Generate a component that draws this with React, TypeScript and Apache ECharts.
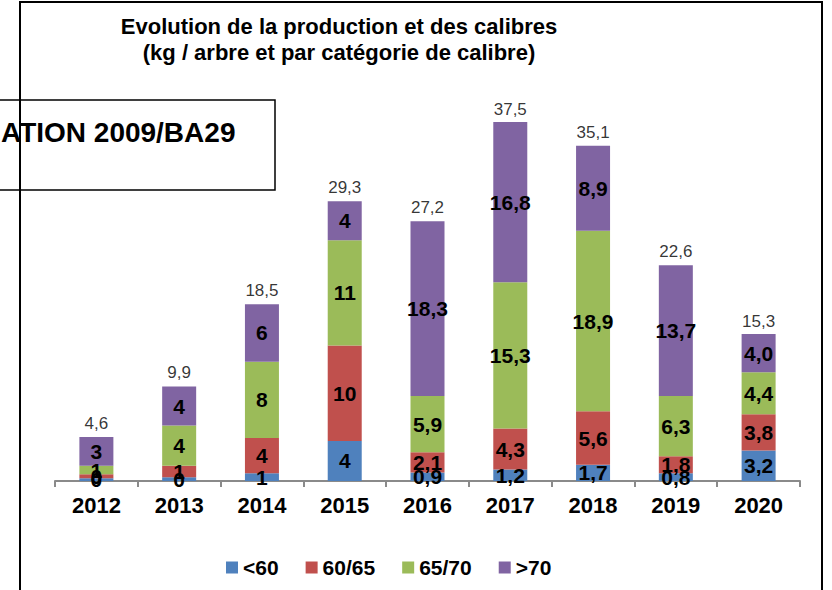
import React, { useEffect, useRef } from "react";
import * as echarts from "echarts";

const years = ["2012", "2013", "2014", "2015", "2016", "2017", "2018", "2019", "2020"];
const lt60 = [0.3, 0.4, 0.8, 4.2, 0.9, 1.2, 1.7, 0.8, 3.2];
const c6065 = [0.4, 1.2, 3.7, 10.0, 2.1, 4.3, 5.6, 1.8, 3.8];
const c6570 = [0.9, 4.2, 8.0, 11.0, 5.9, 15.3, 18.9, 6.3, 4.4];
const gt70 = [3.0, 4.1, 6.0, 4.1, 18.3, 16.8, 8.9, 13.7, 4.0];
const totals = [4.6, 9.9, 18.5, 29.3, 27.2, 37.5, 35.1, 22.6, 15.3];
const labelDecimals = [0, 0, 0, 0, 1, 1, 1, 1, 1];
const seriesNames = ["<60", "60/65", "65/70", ">70"];
const colors = ["#4F81BD", "#C0504D", "#9BBB59", "#8064A2"];

const FONT = "'Liberation Sans', Arial, sans-serif";

const fmt = (v: number, d: number) => v.toFixed(d).replace(".", ",");

export default function App() {
  const ref = useRef<HTMLDivElement>(null);
  useEffect(() => {
    if (!ref.current) return;
    const chart = echarts.init(ref.current, undefined, { renderer: "svg" });
    const dataSets = [lt60, c6065, c6570, gt70];
    const barSeries = dataSets.map((arr, i) => ({
      name: seriesNames[i],
      type: "bar",
      stack: "total",
      barWidth: 34,
      data: arr,
      itemStyle: { color: colors[i] },
      label: {
        show: true,
        position: "inside",
        color: "#000",
        fontWeight: "bold",
        fontSize: 21,
        fontFamily: FONT,
        formatter: (p: any) => fmt(p.value, labelDecimals[p.dataIndex]),
      },
    }));
    const option: any = {
      animation: false,
      backgroundColor: "#fff",
      textStyle: { fontFamily: FONT },
      title: {
        text: "Evolution de la production et des calibres\n(kg / arbre et par catégorie de calibre)",
        left: 334,
        top: 8,
        textAlign: "center",
        textStyle: {
          fontFamily: FONT,
          fontSize: 22,
          fontWeight: "bold",
          color: "#000",
          lineHeight: 26,
        },
      },
      legend: {
        data: seriesNames,
        left: 221,
        top: 552,
        itemWidth: 12,
        itemHeight: 12,
        itemGap: 27,
        icon: "rect",
        textStyle: { fontFamily: FONT, fontSize: 21, fontWeight: "bold", color: "#000" },
      },
      grid: { left: 55, right: 32, top: 99, bottom: 109 },
      xAxis: {
        type: "category",
        data: years,
        axisLine: { lineStyle: { color: "#8a8a8a", width: 2 } },
        axisTick: { show: true, length: 6, lineStyle: { color: "#8a8a8a", width: 2 } },
        axisLabel: {
          margin: 13,
          fontSize: 22,
          fontWeight: "bold",
          color: "#000",
          fontFamily: FONT,
        },
      },
      yAxis: {
        type: "value",
        min: 0,
        max: 40,
        show: false,
        splitLine: { show: false },
      },
      series: [
        ...barSeries,
        {
          name: "total",
          type: "scatter",
          data: totals,
          symbolSize: 0,
          silent: true,
          label: {
            show: true,
            position: "top",
            distance: 5,
            color: "#000",
            fontSize: 17,
            fontFamily: FONT,
            formatter: (p: any) => fmt(p.value, 1),
          },
        },
      ],
      graphic: [
        {
          type: "rect",
          z: 10,
          shape: { x: -10, y: 100, width: 285, height: 90 },
          style: { fill: "#fff", stroke: "#000", lineWidth: 1.5 },
        },
        {
          type: "text",
          z: 11,
          x: 1,
          y: 132,
          style: {
            text: "ATION 2009/BA29",
            font: "bold 28px 'Liberation Sans', Arial, sans-serif",
            fill: "#000",
            verticalAlign: "middle",
            align: "left",
          },
        },
        {
          type: "polyline",
          z: 12,
          shape: { points: [[20, 600], [20, 2], [822, 2], [822, 600]] },
          style: { stroke: "#000", lineWidth: 2, fill: "none" },
        },
      ],
    };
    chart.setOption(option);
    return () => chart.dispose();
  }, []);
  return (
    <div
      ref={ref}
      style={{ position: "absolute", left: 0, top: 0, width: 832, height: 590 }}
    />
  );
}
